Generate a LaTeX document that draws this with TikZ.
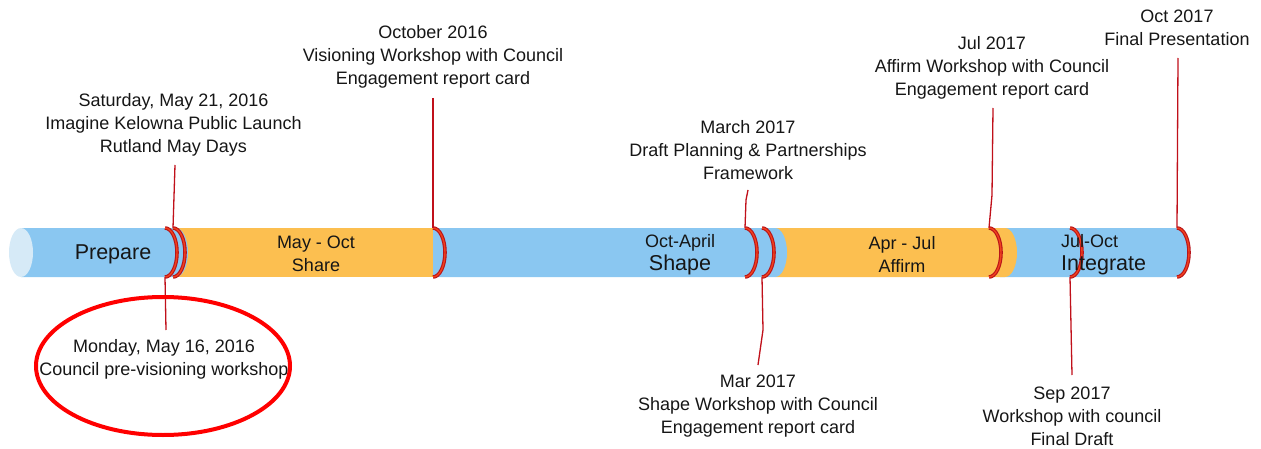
\documentclass[tikz,border=0pt]{standalone}
\usepackage{fontspec}
\setmainfont{Liberation Sans}
\definecolor{barblue}{HTML}{8AC7F1}
\definecolor{barorange}{HTML}{FCBF50}
\definecolor{capblue}{HTML}{D6EAF7}
\definecolor{mkdark}{HTML}{B8141A}
\definecolor{mklight}{HTML}{F0401C}
\definecolor{leader}{HTML}{C0101A}
\definecolor{ink}{HTML}{161616}
\begin{document}
\begin{tikzpicture}[x=1pt,y=1pt,
  lbl/.style={align=center, font=\fontsize{18}{23}\selectfont, text=ink, inner sep=0pt},
  phase/.style={align=center, font=\fontsize{18}{23}\selectfont, text=ink, inner sep=0pt},
  big/.style={font=\fontsize{21.5}{24}\selectfont},
  conn/.style={draw=leader, line width=1.3pt},
  mkout/.style={draw=mkdark, line width=3.6pt},
  mkin/.style={draw=mklight, line width=1.4pt},
  highlight/.style={draw=red, line width=4pt}]
\useasboundingbox (0,0) rectangle (1261,448);

% bar segments: left edge, right edge, colour (right end is an elliptical cap)
\newcommand\barseg[3]{%
  \fill[#3] (#1,220) -- (#2,220) arc[start angle=90,end angle=-90,x radius=12,y radius=24.5] -- (#1,171) -- cycle;}
\barseg{1000}{1176}{barblue}
\barseg{775}{1005}{barorange}
\barseg{433}{775}{barblue}
\fill[barorange] (176,171) rectangle (433,220);
\barseg{21}{176}{barblue}
\fill[capblue] (21,195.5) ellipse[x radius=12, y radius=24.5];

% milestone rings on the bar
\foreach \x/\n in {165/a,173/b,433/c,745/d,762/e,989/f,1070/g,1177/h}{
  \draw[mkout] (\x,220) arc[start angle=90,end angle=-90,x radius=12,y radius=24.5];
  \draw[mkin] (\x,220) arc[start angle=90,end angle=-90,x radius=12,y radius=24.5];
  \coordinate (m\n-top) at (\x,220);
  \coordinate (m\n-bot) at (\x,171);
}

% phase labels
\node[phase, big] (prepare) at (113,194) {Prepare};
\node[phase] (share) at (316,194) {May - Oct\\Share};
\node[phase] (shape) at (680,193) {Oct-April\\{\fontsize{21.5}{24}\selectfont Shape}};
\node[phase] (affirm) at (902,194) {Apr - Jul\\Affirm};
\node[phase, align=left, anchor=west] (integrate) at (1061,193) {Jul-Oct\\{\fontsize{21.5}{24}\selectfont Integrate}};

% milestone labels above the bar
\node[lbl] (sat) at (173.5,323.5) {Saturday, May 21, 2016\\Imagine Kelowna Public Launch\\Rutland May Days};
\node[lbl] (oct16) at (433,391) {October 2016\\Visioning Workshop with Council\\Engagement report card};
\node[lbl] (mar17a) at (748,298) {March 2017\\Draft Planning \& Partnerships\\Framework};
\node[lbl] (jul17) at (992,380) {Jul 2017\\Affirm Workshop with Council\\Engagement report card};
\node[lbl] (oct17) at (1177,420.5) {Oct 2017\\Final Presentation};

% milestone labels below the bar
\node[lbl] (may16) at (164,88.5) {Monday, May 16, 2016\\Council pre-visioning workshop};
\node[lbl] (mar17b) at (758,42) {Mar 2017\\Shape Workshop with Council\\Engagement report card};
\node[lbl] (sep17) at (1072,31.5) {Sep 2017\\Workshop with council\\Final Draft};

% leader ends
\coordinate (sat-end) at (175,283);
\coordinate (oct16-end) at (433,350);
\coordinate (mar17a-end) at (748,258);
\coordinate (jul17-end) at (993,340);
\coordinate (oct17-end) at (1178,390);
\coordinate (may16-end) at (166,118);
\coordinate (mar17b-end) at (758,83);
\coordinate (sep17-end) at (1072,73);

% leaders
\draw[conn] (sat-end) -- (mb-top);
\draw[conn] (oct16-end) -- (mc-top);
\draw[conn] (mar17a-end) -- (746,248) -- (md-top);
\draw[conn] (jul17-end) -- (992,253) -- (mf-top);
\draw[conn] (oct17-end) -- (mh-top);
\draw[conn] (ma-bot) -- (may16-end);
\draw[conn] (me-bot) -- (763,118) -- (mar17b-end);
\draw[conn] (mg-bot) -- (sep17-end);

% highlight around the first workshop
\draw[highlight] (163,82) ellipse[x radius=127, y radius=69];
\end{tikzpicture}
\end{document}
